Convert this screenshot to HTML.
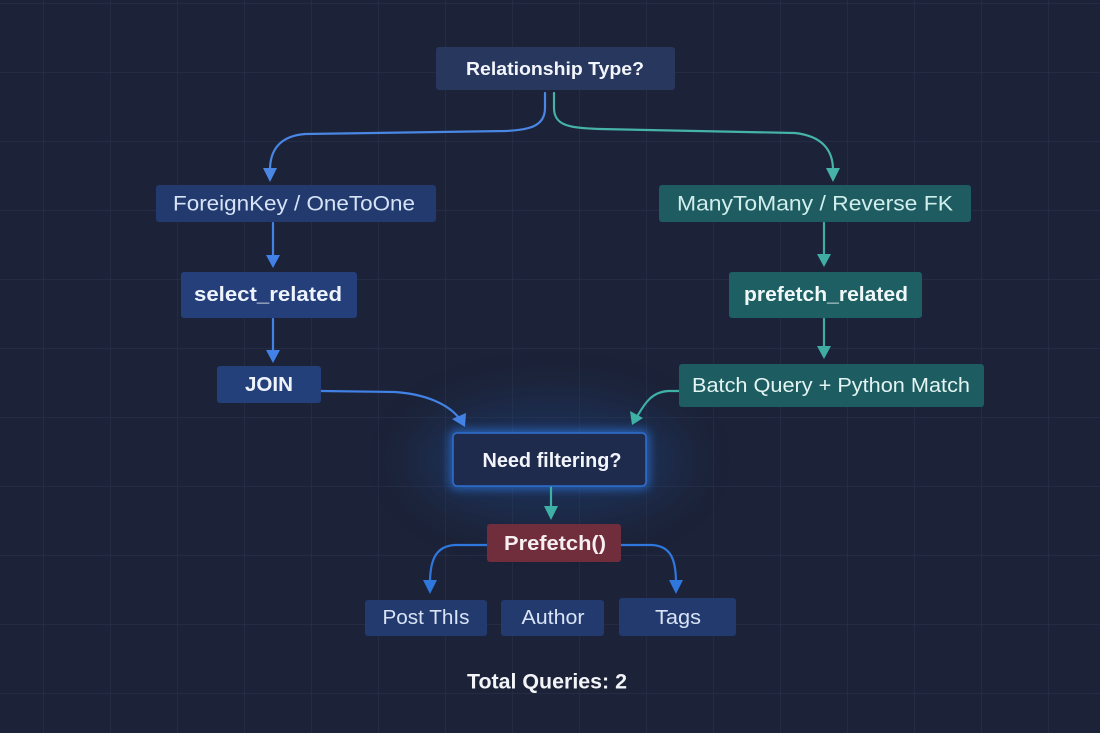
<!DOCTYPE html>
<html><head><meta charset="utf-8"><style>
html,body{margin:0;padding:0;background:#1c2237;}
svg{display:block;}
text{font-family:"Liberation Sans",Arial,sans-serif;}
</style></head><body>
<svg width="1100" height="733" viewBox="0 0 1100 733" xmlns="http://www.w3.org/2000/svg">
<defs>
<pattern id="grid" x="43" y="3" width="67" height="69" patternUnits="userSpaceOnUse">
<path d="M0 0V69M0 0H67" stroke="#272e46" stroke-width="1.5" fill="none"/>
</pattern>
<filter id="blur20" x="-50%" y="-50%" width="200%" height="200%"><feGaussianBlur stdDeviation="22"/></filter>
<filter id="blur6" x="-50%" y="-50%" width="200%" height="200%"><feGaussianBlur stdDeviation="5"/></filter>
</defs>
<rect width="1100" height="733" fill="#1c2237"/>
<rect width="1100" height="733" fill="url(#grid)"/>
<!-- center glow -->
<ellipse cx="550" cy="460" rx="140" ry="65" fill="#1f4a8a" opacity="0.3" filter="url(#blur20)"/>
<rect x="450" y="430" width="199" height="59" rx="5" fill="#2f7be8" opacity="0.7" filter="url(#blur6)"/>

<!-- connectors -->
<g fill="none" stroke-width="2.2" stroke-linecap="round">
<path d="M545 93 V108 C545 126 530 130 505 131 L305 134 C280 136 270 150 270 170" stroke="#4a86e4"/>
<path d="M554 93 V108 C554 126 570 128 600 129 L795 133 C822 136 833 150 833 170" stroke="#45b3a8"/>
<path d="M273 223 V258" stroke="#4282e6"/>
<path d="M273 319 V353" stroke="#4282e6"/>
<path d="M824 223 V257" stroke="#3fada2"/>
<path d="M824 319 V349" stroke="#3fada2"/>
<path d="M321 391 L395 392 C425 394 448 404 459 418" stroke="#4282e6"/>
<path d="M679 391 L668 391 C652 392 645 403 638 415" stroke="#3fb0a5"/>
<path d="M551 487 V509" stroke="#3fb0a5"/>
<path d="M487 545 L455 545 C437 546 430 558 430 583" stroke="#2f77dc"/>
<path d="M621 545 L652 545 C670 546 676 558 676 583" stroke="#2f77dc"/>
</g>
<!-- arrowheads -->
<g>
<path d="M263 168 L277 168 L270 182 Z" fill="#4a86e4"/>
<path d="M826 168 L840 168 L833 182 Z" fill="#45b3a8"/>
<path d="M266 255 L280 255 L273 268 Z" fill="#4282e6"/>
<path d="M266 350 L280 350 L273 363 Z" fill="#4282e6"/>
<path d="M817 254 L831 254 L824 267 Z" fill="#3fada2"/>
<path d="M817 346 L831 346 L824 359 Z" fill="#3fada2"/>
<path d="M452 419 L466 413 L465 427 Z" fill="#4282e6"/>
<path d="M630 411 L643 418 L632 425 Z" fill="#3fb0a5"/>
<path d="M544 506 L558 506 L551 520 Z" fill="#3fb0a5"/>
<path d="M423 580 L437 580 L430 594 Z" fill="#2f77dc"/>
<path d="M669 580 L683 580 L676 594 Z" fill="#2f77dc"/>
</g>

<!-- nodes -->
<rect x="436" y="47" width="239" height="43" rx="3" fill="#28375d"/>
<text x="555" y="69" dominant-baseline="central" text-anchor="middle" font-size="18" font-weight="bold" fill="#f2f5fb" textLength="178" lengthAdjust="spacingAndGlyphs">Relationship Type?</text>

<rect x="156" y="185" width="280" height="37" rx="3" fill="#223a6e"/>
<text x="294" y="204" dominant-baseline="central" text-anchor="middle" font-size="21" fill="#d6e2f6" textLength="242" lengthAdjust="spacingAndGlyphs">ForeignKey / OneToOne</text>

<rect x="181" y="272" width="176" height="46" rx="3" fill="#243f79"/>
<text x="268" y="295" dominant-baseline="central" text-anchor="middle" font-size="20" font-weight="bold" fill="#eef3fc" textLength="148" lengthAdjust="spacingAndGlyphs">select_related</text>

<rect x="217" y="366" width="104" height="37" rx="3" fill="#23407a"/>
<text x="269" y="385" dominant-baseline="central" text-anchor="middle" font-size="20" font-weight="bold" fill="#eef3fc" textLength="48" lengthAdjust="spacingAndGlyphs">JOIN</text>

<rect x="659" y="185" width="312" height="37" rx="3" fill="#1e5c61"/>
<text x="815" y="204" dominant-baseline="central" text-anchor="middle" font-size="21" fill="#cfeeec" textLength="276" lengthAdjust="spacingAndGlyphs">ManyToMany / Reverse FK</text>

<rect x="729" y="272" width="193" height="46" rx="3" fill="#1e5f63"/>
<text x="826" y="295" dominant-baseline="central" text-anchor="middle" font-size="20" font-weight="bold" fill="#f0f8f8" textLength="164" lengthAdjust="spacingAndGlyphs">prefetch_related</text>

<rect x="679" y="364" width="305" height="43" rx="3" fill="#1d5c60"/>
<text x="831" y="386" dominant-baseline="central" text-anchor="middle" font-size="20" fill="#e3f4f3" textLength="278" lengthAdjust="spacingAndGlyphs">Batch Query + Python Match</text>

<rect x="453" y="433" width="193" height="53" rx="4" fill="#1f2b4d" stroke="#2f6fd0" stroke-width="1.5"/>
<text x="552" y="461" dominant-baseline="central" text-anchor="middle" font-size="20" font-weight="bold" fill="#f2f5fb" textLength="139" lengthAdjust="spacingAndGlyphs">Need filtering?</text>

<rect x="487" y="524" width="134" height="38" rx="3" fill="#702d3c"/>
<text x="555" y="544" dominant-baseline="central" text-anchor="middle" font-size="20" font-weight="bold" fill="#f6eef0" textLength="102" lengthAdjust="spacingAndGlyphs">Prefetch()</text>

<rect x="365" y="600" width="122" height="36" rx="3" fill="#233a6f"/>
<text x="426" y="618" dominant-baseline="central" text-anchor="middle" font-size="20" fill="#d8e3f6" textLength="87" lengthAdjust="spacingAndGlyphs">Post ThIs</text>

<rect x="501" y="600" width="103" height="36" rx="3" fill="#233a6f"/>
<text x="553" y="618" dominant-baseline="central" text-anchor="middle" font-size="20" fill="#d8e3f6" textLength="63" lengthAdjust="spacingAndGlyphs">Author</text>

<rect x="619" y="598" width="117" height="38" rx="3" fill="#233a6f"/>
<text x="678" y="618" dominant-baseline="central" text-anchor="middle" font-size="20" fill="#d8e3f6" textLength="46" lengthAdjust="spacingAndGlyphs">Tags</text>

<text x="547" y="682" dominant-baseline="central" text-anchor="middle" font-size="21" font-weight="bold" fill="#f2f4f8" textLength="160" lengthAdjust="spacingAndGlyphs">Total Queries: 2</text>
</svg>
</body></html>
